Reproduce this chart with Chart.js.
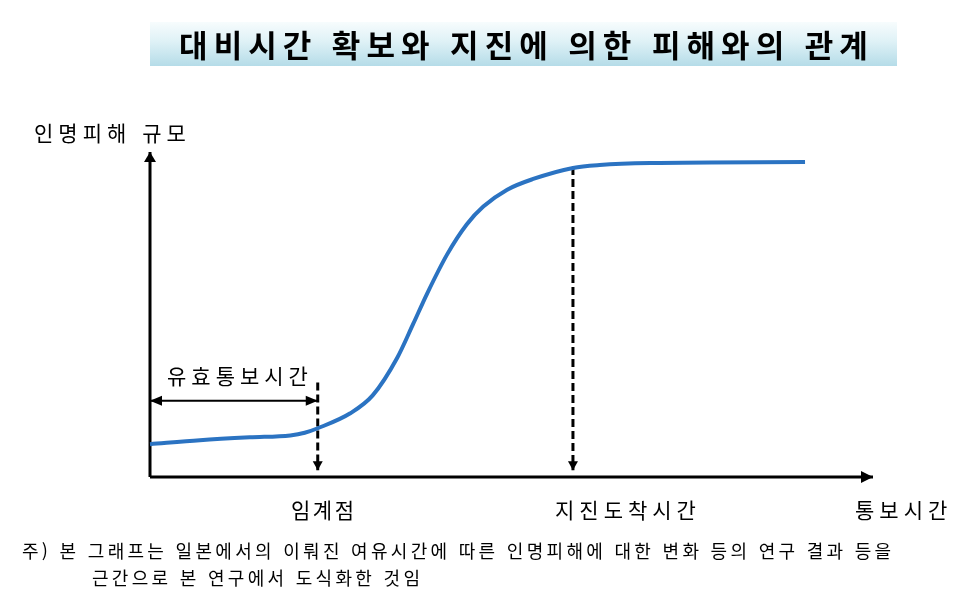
<!DOCTYPE html>
<html lang="ko">
<head>
<meta charset="utf-8">
<script src="https://cdn.jsdelivr.net/npm/chart.js@4.4.1/dist/chart.umd.min.js"></script>
<style>
  body { margin: 0; background: #fff; }
  .wrap { position: relative; width: 967px; height: 613px; font-family: "Noto Sans CJK KR", sans-serif; color: #000; }
  canvas { position: absolute; left: 0; top: 0; }
  .title {
    position: absolute; left: 150px; top: 22px; width: 747px; height: 44px;
    background: linear-gradient(to bottom, #f7fcfd 0%, #def1f6 45%, #b5dce8 100%);
    font-weight: 700; font-size: 31px; line-height: 44px; letter-spacing: 6px;
    text-align: center; white-space: nowrap; text-indent: 6px;
  }
  .lbl { position: absolute; font-size: 21px; letter-spacing: 5px; white-space: nowrap; line-height: 1; }
  .note { position: absolute; font-size: 18px; letter-spacing: 3.3px; white-space: nowrap; line-height: 1; }
</style>
</head>
<body>
<div class="wrap">
  <canvas id="chart" width="967" height="613"></canvas>
  <div class="title">대비시간 확보와 지진에 의한 피해와의 관계</div>
  <div class="lbl" style="left:34px; top:122px;">인명피해 규모</div>
  <div class="lbl" style="left:167px; top:365px;">유효통보시간</div>
  <div class="lbl" style="left:291px; top:499px; letter-spacing:2.5px;">임계점</div>
  <div class="lbl" style="left:555px; top:499px;">지진도착시간</div>
  <div class="lbl" style="left:855px; top:499px;">통보시간</div>
  <div class="note" style="left:22px; top:541px;">주) 본 그래프는 일본에서의 이뤄진 여유시간에 따른 인명피해에 대한 변화 등의 연구 결과 등을</div>
  <div class="note" style="left:92px; top:568px;">근간으로 본 연구에서 도식화한 것임</div>
</div>
<script>
// 통보시간 (x) vs 인명피해 규모 (y)
const curveTime   = [0, 6.9, 13.8, 19.4, 21.4, 23.2, 27.7, 30.8, 34.2, 36.4, 38.3, 41.1, 43.8, 46.1, 49.4, 53.0, 58.5, 62.2, 69.2, 90.6];
const curveDamage = [10.1, 11.3, 12.2, 12.8, 13.6, 15.0, 19.6, 25.1, 36.7, 47.1, 56.3, 68.5, 77.7, 83.2, 88.4, 91.7, 95.1, 96.0, 96.6, 96.9];

const criticalTime = 23.2;   // 임계점
const arrivalTime = 58.5;    // 지진도착시간
const criticalTop = 29.1;
const arrivalTop = 95.4;
const markerBottom = 2.1;
const spanLevel = 23.5;      // 유효통보시간 arrow
const axisMax = 100;

const pts = (xs, ys) => xs.map((x, i) => ({ x: x, y: ys[i] }));

// arrowheads at line ends
const arrowPlugin = {
  id: 'arrows',
  afterDatasetsDraw(chart) {
    const ctx = chart.ctx;
    chart.data.datasets.forEach((ds, i) => {
      const d = chart.getDatasetMeta(i).data;
      if (!d.length) return;
      const head = (tip, from, len, half) => {
        const a = Math.atan2(tip.y - from.y, tip.x - from.x);
        ctx.save();
        ctx.fillStyle = '#000';
        ctx.translate(tip.x, tip.y);
        ctx.rotate(a);
        ctx.beginPath();
        ctx.moveTo(0, 0);
        ctx.lineTo(-len, -half);
        ctx.lineTo(-len, half);
        ctx.closePath();
        ctx.fill();
        ctx.restore();
      };
      const s = ds.arrowSize || [10, 5];
      if (ds.arrowEnd) head(d[d.length - 1], d[0], s[0], s[1]);
      if (ds.arrowStart) head(d[0], d[d.length - 1], s[0], s[1]);
    });
  }
};

new Chart(document.getElementById('chart'), {
  type: 'line',
  data: {
    datasets: [
      {
        data: pts(curveTime, curveDamage),
        borderColor: '#2b73c2', borderWidth: 4, cubicInterpolationMode: 'monotone'
      },
      {
        data: pts([0, axisMax], [0, 0]),
        borderColor: '#000', borderWidth: 3, arrowEnd: true, arrowSize: [12, 6]
      },
      {
        data: pts([0, 0], [0, axisMax]),
        borderColor: '#000', borderWidth: 3, arrowEnd: true, arrowSize: [10, 6]
      },
      {
        data: pts([criticalTime, criticalTime], [criticalTop, markerBottom]),
        borderColor: '#000', borderWidth: 3, borderDash: [8, 4], arrowEnd: true, arrowSize: [9, 5]
      },
      {
        data: pts([arrivalTime, arrivalTime], [arrivalTop, markerBottom]),
        borderColor: '#000', borderWidth: 3, borderDash: [8, 4], arrowEnd: true, arrowSize: [9, 5]
      },
      {
        data: pts([0, criticalTime], [spanLevel, spanLevel]),
        borderColor: '#000', borderWidth: 2, arrowEnd: true, arrowStart: true, arrowSize: [12, 5]
      }
    ]
  },
  options: {
    responsive: false,
    animation: false,
    clip: false,
    layout: { padding: { left: 150, right: 94, top: 152, bottom: 136 } },
    elements: { point: { radius: 0 }, line: { borderCapStyle: 'butt' } },
    scales: {
      x: { type: 'linear', min: 0, max: axisMax, display: false },
      y: { type: 'linear', min: 0, max: axisMax, display: false }
    },
    plugins: { legend: { display: false }, tooltip: { enabled: false } }
  },
  plugins: [arrowPlugin]
});
</script>
</body>
</html>
